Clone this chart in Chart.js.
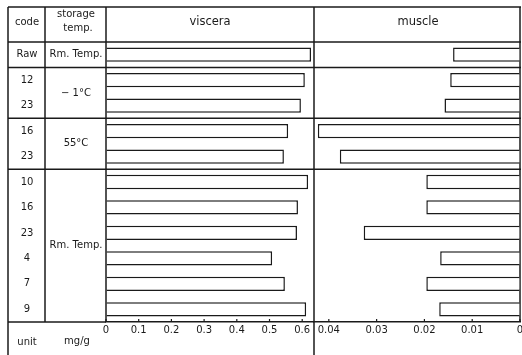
<!DOCTYPE html>
<html>
<head>
<meta charset="utf-8">
<script src="https://cdn.jsdelivr.net/npm/chart.js@4.4.0/dist/chart.umd.min.js"></script>
<style>
  html, body { margin: 0; padding: 0; background: #fff; overflow: hidden; }
  #wrap { position: relative; width: 522px; height: 355px; overflow: hidden; }
  canvas { position: absolute; left: 0; top: 0; }
</style>
</head>
<body>
<div id="wrap">
  <canvas id="chartViscera" width="540" height="355"></canvas>
  <canvas id="chartMuscle" width="540" height="355"></canvas>
</div>
<script>
// row labels (code column) and storage groups
const codes = ['Raw', '12', '23', '16', '23', '10', '16', '23', '4', '7', '9'];
const storageLabels = ['Rm. Temp.', '\u2212 1\u00b0C', '55\u00b0C', 'Rm. Temp.'];
const storageSizes = [1, 2, 2, 6];

// values
const visceraValues = [0.627, 0.608, 0.596, 0.557, 0.544, 0.618, 0.587, 0.584, 0.508, 0.547, 0.612];
const muscleValues = [0.0140, 0.0146, 0.0158, 0.0423, 0.0377, 0.0196, 0.0196, 0.0327, 0.0167, 0.0196, 0.0169];

// tick labels
const visceraTicks = [0, 0.1, 0.2, 0.3, 0.4, 0.5, 0.6];
const muscleTicks = [0.04, 0.03, 0.02, 0.01, 0];

const ink = '#1a1a1a';
const font = 'DejaVu Sans';

// small inward tick marks on the x axis
const tickMarks = {
    id: 'tickMarks',
    afterDraw(chart) {
        const { ctx, scales: { x } } = chart;
        ctx.save();
        ctx.strokeStyle = ink;
        ctx.lineWidth = 1.2;
        x.ticks.forEach(t => {
            const px = x.getPixelForValue(t.value);
            ctx.beginPath();
            ctx.moveTo(px, x.top);
            ctx.lineTo(px, x.top - 3);
            ctx.stroke();
        });
        ctx.restore();
    }
};

// table frame and texts around the bars
const tablePlugin = {
    id: 'table',
    afterDraw(chart) {
        const { ctx, chartArea: a, scales: { y } } = chart;
        const rowY = i => y.getPixelForValue(i);
        const between = i => (rowY(i - 1) + rowY(i)) / 2;
        const line = (x1, y1, x2, y2) => {
            ctx.beginPath(); ctx.moveTo(x1, y1); ctx.lineTo(x2, y2); ctx.stroke();
        };
        ctx.save();
        ctx.strokeStyle = ink;
        ctx.lineWidth = 1.5;

        // horizontal rules
        line(8, 7, 521, 7);
        line(8, a.top, 521, a.top);
        let start = 0;
        storageSizes.forEach(n => {
            start += n;
            if (start < codes.length) line(8, between(start), 521, between(start));
        });
        line(8, a.bottom, a.left, a.bottom);

        // vertical rules
        line(8, 7, 8, 355);
        line(45, 7, 45, a.bottom);
        line(a.left, 7, a.left, a.bottom);
        line(314, 7, 314, 355);
        line(520, 7, 520, a.bottom);

        // header
        ctx.fillStyle = ink;
        ctx.textAlign = 'center';
        ctx.textBaseline = 'middle';
        ctx.font = '10px "' + font + '"';
        ctx.fillText('code', 27, 22);
        ctx.fillText('storage', 76, 14);
        ctx.fillText('temp.', 78, 28);
        ctx.font = '11.5px "' + font + '"';
        ctx.fillText('viscera', 210, 22);
        ctx.fillText('muscle', 418, 22);

        // code column
        ctx.font = '10px "' + font + '"';
        codes.forEach((c, i) => ctx.fillText(c, 27, rowY(i)));

        // storage column
        start = 0;
        storageSizes.forEach((n, g) => {
            const mid = (rowY(start) + rowY(start + n - 1)) / 2;
            ctx.fillText(storageLabels[g], 76, mid);
            start += n;
        });

        // unit row
        ctx.fillText('unit', 27, 342);
        ctx.fillText('mg/g', 77, 341);
        ctx.restore();
    }
};

function xAxis(ticks, max, reverse) {
    return {
        type: 'linear',
        position: 'bottom',
        min: 0,
        max: max,
        reverse: reverse,
        afterBuildTicks: s => { s.ticks = ticks.map(v => ({ value: v })); },
        afterFit: s => { s.height = 18; },
        grid: { drawOnChartArea: false, drawTicks: false },
        border: { display: true, color: ink, width: 1.5 },
        ticks: {
            padding: 2,
            color: ink,
            maxRotation: 0,
            autoSkip: false,
            font: { family: font, size: 10 },
            callback: v => String(v)
        }
    };
}

const yAxis = { type: 'category', display: false, labels: codes };

const barStyle = {
    backgroundColor: '#ffffff',
    borderColor: ink,
    borderWidth: 1.5,
    barPercentage: 0.56,
    categoryPercentage: 1
};

const commonOptions = {
    responsive: false,
    animation: false,
    devicePixelRatio: 1,
    indexAxis: 'y',
    plugins: { legend: { display: false }, tooltip: { enabled: false } }
};

// --- viscera panel ---
new Chart(document.getElementById('chartViscera'), {
    type: 'bar',
    data: { labels: codes, datasets: [{ data: visceraValues, ...barStyle }] },
    options: {
        ...commonOptions,
        layout: { padding: { left: 106, right: 540 - 313, top: 42, bottom: 15 } },
        scales: { x: xAxis(visceraTicks, 0.633, false), y: yAxis }
    },
    plugins: [tablePlugin, tickMarks]
});

// --- muscle panel (axis runs right to left) ---
new Chart(document.getElementById('chartMuscle'), {
    type: 'bar',
    data: { labels: codes, datasets: [{ data: muscleValues, ...barStyle }] },
    options: {
        ...commonOptions,
        layout: { padding: { left: 314, right: 540 - 520, top: 42, bottom: 15 } },
        scales: { x: xAxis(muscleTicks, 0.0431, true), y: yAxis }
    },
    plugins: [tickMarks]
});
</script>
</body>
</html>
